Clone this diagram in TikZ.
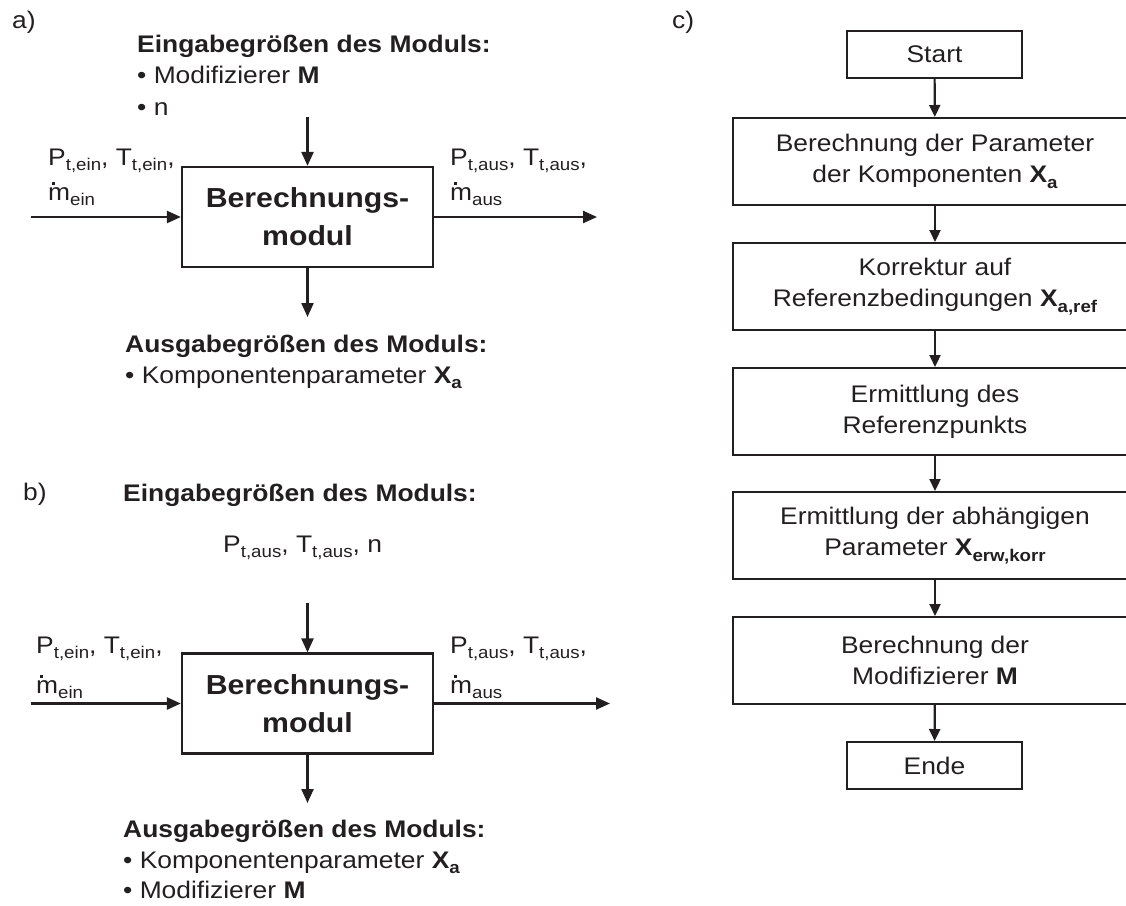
\documentclass[tikz,border=0pt]{standalone}
\usepackage{fontspec}
\setmainfont[FakeStretch=1.1]{Liberation Sans}
\usetikzlibrary{arrows.meta}
\definecolor{ink}{HTML}{231F20}
\newcommand\fs[1]{\fontsize{#1}{31}\selectfont}
\newcommand\sbs[1]{\raisebox{-5.5pt}{\fontsize{17}{17}\selectfont #1}}
\newcommand\mdot{\rlap{\hspace{4pt}\raisebox{15.5pt}{\rule{2.8pt}{2.8pt}}}m}
\begin{document}
\begin{tikzpicture}[x=1pt,y=-1pt,
  every node/.style={text=ink},
  txt/.style={anchor=base west, inner sep=0pt, font=\fs{24}},
  htxt/.style={txt, font=\bfseries\fs{24}},
  arr/.style={draw=ink, line width=2.3pt, -{Triangle[length=14pt,width=12pt]}},
  modbox/.style={draw=ink, line width=2.2pt, minimum width=251pt, minimum height=100pt, inner sep=0pt, align=center, font=\bfseries\fontsize{27.5}{38}\selectfont},
  flowbox/.style={draw=ink, line width=2pt, minimum width=404pt, minimum height=87pt, inner sep=0pt, align=center, font=\fs{24}},
  endbox/.style={flowbox, minimum width=175pt, minimum height=47pt},
  farr/.style={draw=ink, line width=2.2pt, -{Triangle[length=12pt,width=11pt]}}]
\useasboundingbox (0,0) rectangle (1126,905);

% ---------- a) ----------
\node[txt] (la) at (12,28) {a)};
\node[htxt] (ina1) at (137,52) {Eingabegrößen des Moduls:};
\node[txt] (ina2) at (137,83) {• Modifizierer \textbf{M}};
\node[txt] (ina3) at (137,115) {• n};
\node[modbox] (moda) at (307.5,217) {Berechnungs-\\modul};
\coordinate (atop) at (307.5,117);
\coordinate (abot) at (307.5,317);
\coordinate (aleft) at (31,217);
\coordinate (aright) at (597,217);
\draw[arr] (atop) -- (moda.north);
\draw[arr] (moda.south) -- (abot);
\draw[arr] (aleft) -- (moda.west);
\draw[arr] (moda.east) -- (aright);
\node[txt] (ala1) at (48,165) {P\sbs{t,ein}, T\sbs{t,ein},};
\node[txt] (ala2) at (48,200) {\mdot\sbs{ein}};
\node[txt] (ara1) at (450,165) {P\sbs{t,aus}, T\sbs{t,aus},};
\node[txt] (ara2) at (450,200) {\mdot\sbs{aus}};
\node[htxt] (outa1) at (125,352) {Ausgabegrößen des Moduls:};
\node[txt] (outa2) at (125,383) {• Komponentenparameter \textbf{X\sbs{a}}};

% ---------- b) ----------
\node[txt] (lb) at (23,500) {b)};
\node[htxt] (inb1) at (123,501) {Eingabegrößen des Moduls:};
\node[txt] (inb2) at (223,552) {P\sbs{t,aus}, T\sbs{t,aus}, n};
\node[modbox] (modb) at (307.5,703.5) {Berechnungs-\\modul};
\coordinate (btop) at (307.5,603);
\coordinate (bbot) at (307.5,803);
\coordinate (bleft) at (31,703.5);
\coordinate (bright) at (610,703.5);
\draw[arr] (btop) -- (modb.north);
\draw[arr] (modb.south) -- (bbot);
\draw[arr] (bleft) -- (modb.west);
\draw[arr] (modb.east) -- (bright);
\node[txt] (alb1) at (36,653) {P\sbs{t,ein}, T\sbs{t,ein},};
\node[txt] (alb2) at (36,693) {\mdot\sbs{ein}};
\node[txt] (arb1) at (450,653) {P\sbs{t,aus}, T\sbs{t,aus},};
\node[txt] (arb2) at (450,693) {\mdot\sbs{aus}};
\node[htxt] (outb1) at (123,837) {Ausgabegrößen des Moduls:};
\node[txt] (outb2) at (123,868) {• Komponentenparameter \textbf{X\sbs{a}}};
\node[txt] (outb3) at (123,898) {• Modifizierer \textbf{M}};

% ---------- c) ----------
\node[txt] (lc) at (672,28) {c)};
\node[endbox] (start) at (934.5,54.5) {Start};
\node[flowbox] (f1) at (935,161.5) {Berechnung der Parameter\\der Komponenten \textbf{X\sbs{a}}};
\node[flowbox] (f2) at (935,286.5) {Korrektur auf\\Referenzbedingungen \textbf{X\sbs{a,ref}}};
\node[flowbox] (f3) at (935,411.5) {Ermittlung des\\Referenzpunkts};
\node[flowbox] (f4) at (935,535.5) {Ermittlung der abhängigen\\Parameter \textbf{X\sbs{erw,korr}}};
\node[flowbox] (f5) at (935,660.5) {Berechnung der\\Modifizierer \textbf{M}};
\node[endbox] (ende) at (934.5,765.5) {Ende};
\draw[farr] (start) -- (f1);
\draw[farr] (f1) -- (f2);
\draw[farr] (f2) -- (f3);
\draw[farr] (f3) -- (f4);
\draw[farr] (f4) -- (f5);
\draw[farr] (f5) -- (ende);
\end{tikzpicture}
\end{document}
